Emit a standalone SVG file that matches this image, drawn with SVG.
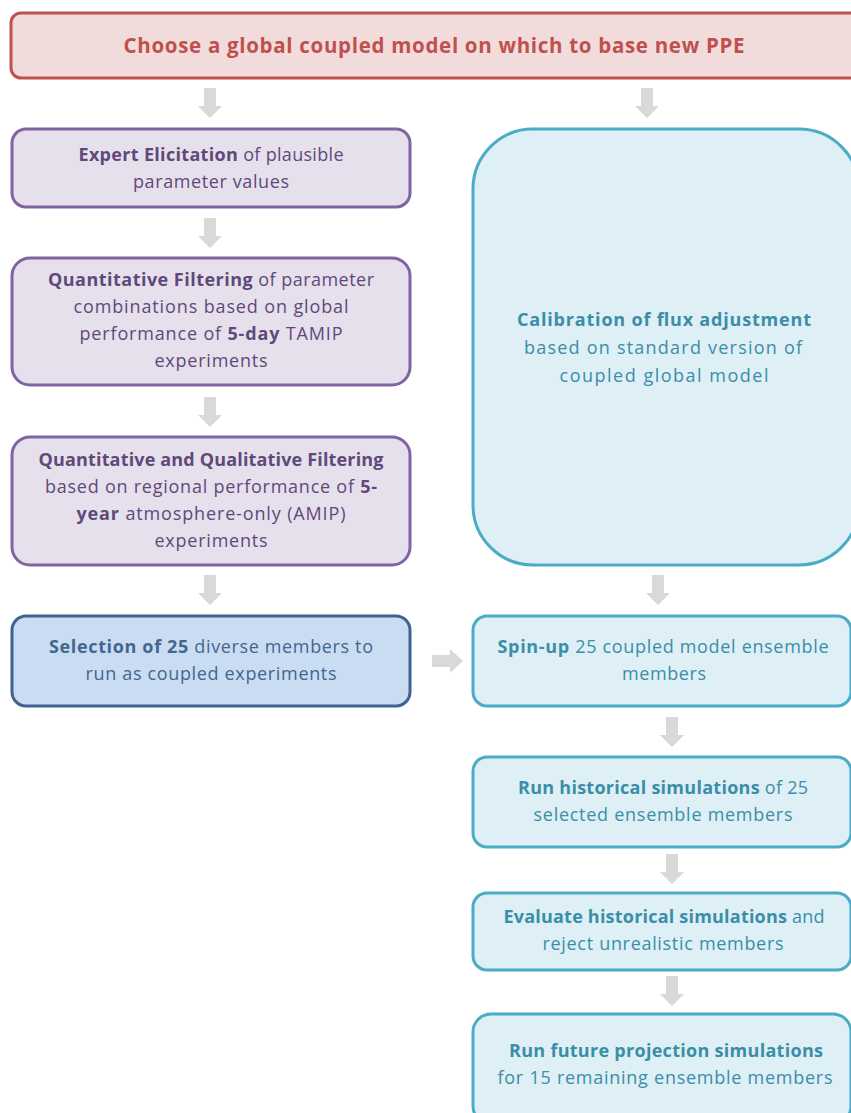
<svg xmlns="http://www.w3.org/2000/svg" width="851" height="1113" viewBox="0 0 851 1113">
<style>
text{font-family:"Open Sans","Noto Sans",sans-serif;font-size:18px;text-anchor:middle}
.b{font-weight:bold}
.red rect{fill:#f2dcdb;stroke:#c0504d;stroke-width:3}
.red text{fill:#c0504d;font-size:20.5px;font-weight:bold}
.pur rect{fill:#e6e0ec;stroke:#8064a2;stroke-width:3}
.pur text{fill:#5f497a}
.blu rect{fill:#cadcf2;stroke:#3f6390;stroke-width:3}
.blu text{fill:#41678f}
.teal rect{fill:#deeff5;stroke:#4bacc6;stroke-width:3}
.teal text{fill:#3a8ea8}
.arr{fill:#d9d9d9}
</style>
<defs>
<path id="ad" d="M-6,0 H6 V18 H12 L0,30 L-12,18 H-6 Z"/>
</defs>
<g id="connectors" class="arr">
<use href="#ad" x="210" y="88"/>
<use href="#ad" x="647" y="88"/>
<use href="#ad" x="210" y="218"/>
<use href="#ad" x="210" y="397"/>
<use href="#ad" x="210" y="575"/>
<use href="#ad" x="658" y="575"/>
<use href="#ad" x="672" y="717"/>
<use href="#ad" x="672" y="854"/>
<use href="#ad" x="672" y="976"/>
<path d="M432,655 H450 V649 L463,661 L450,673 V667 H432 Z"/>
</g>
<g id="top" class="red">
<rect x="11" y="13" width="850" height="65" rx="10"/>
<text x="434" y="53" textLength="621">Choose a global coupled model on which to base new PPE</text>
</g>
<g id="elicitation" class="pur">
<rect x="12" y="129" width="398" height="78" rx="14"/>
<text x="211" y="161" textLength="265"><tspan class="b">Expert Elicitation</tspan> of plausible</text>
<text x="211" y="188" textLength="156">parameter values</text>
</g>
<g id="quant-filter" class="pur">
<rect x="12" y="258" width="398" height="127" rx="18"/>
<text x="211" y="286" textLength="326"><tspan class="b">Quantitative Filtering</tspan> of parameter</text>
<text x="211" y="313" textLength="275">combinations based on  global</text>
<text x="211" y="340" textLength="263">performance of <tspan class="b">5-day</tspan> TAMIP</text>
<text x="211" y="367" textLength="113">experiments</text>
</g>
<g id="qual-filter" class="pur">
<rect x="12" y="437" width="398" height="128" rx="18"/>
<text x="211" y="466" textLength="345" class="b">Quantitative and Qualitative Filtering</text>
<text x="211" y="493" textLength="332">based on regional performance of <tspan class="b">5-</tspan></text>
<text x="211" y="520" textLength="269"><tspan class="b">year</tspan> atmosphere-only (AMIP)</text>
<text x="211" y="547" textLength="113">experiments</text>
</g>
<g id="selection" class="blu">
<rect x="12" y="616" width="398" height="90" rx="14"/>
<text x="211" y="653" textLength="324"><tspan class="b">Selection of 25</tspan> diverse members to</text>
<text x="211" y="680" textLength="251">run as coupled experiments</text>
</g>
<g id="calibration" class="teal">
<rect x="473" y="129" width="386" height="436" rx="60"/>
<text x="664" y="326" textLength="294" class="b">Calibration of flux adjustment</text>
<text x="663" y="354" textLength="278">based on standard version of</text>
<text x="664" y="382" textLength="209">coupled global model</text>
</g>
<g id="spinup" class="teal">
<rect x="473" y="616" width="378" height="90" rx="14"/>
<text x="663" y="653" textLength="331"><tspan class="b">Spin-up</tspan> 25 coupled model ensemble</text>
<text x="664" y="680" textLength="84">members</text>
</g>
<g id="historical" class="teal">
<rect x="473" y="757" width="378" height="90" rx="14"/>
<text x="663" y="794" textLength="290"><tspan class="b">Run historical simulations</tspan> of 25</text>
<text x="663" y="821" textLength="259">selected ensemble members</text>
</g>
<g id="evaluate" class="teal">
<rect x="473" y="893" width="378" height="77" rx="14"/>
<text x="664" y="923" textLength="321"><tspan class="b">Evaluate historical simulations</tspan> and</text>
<text x="663" y="950" textLength="241">reject unrealistic members</text>
</g>
<g id="future" class="teal">
<rect x="473" y="1014" width="378" height="110" rx="18"/>
<text x="666" y="1057" textLength="314" class="b">Run future projection simulations</text>
<text x="665" y="1084" textLength="335">for 15 remaining ensemble members</text>
</g>
</svg>
